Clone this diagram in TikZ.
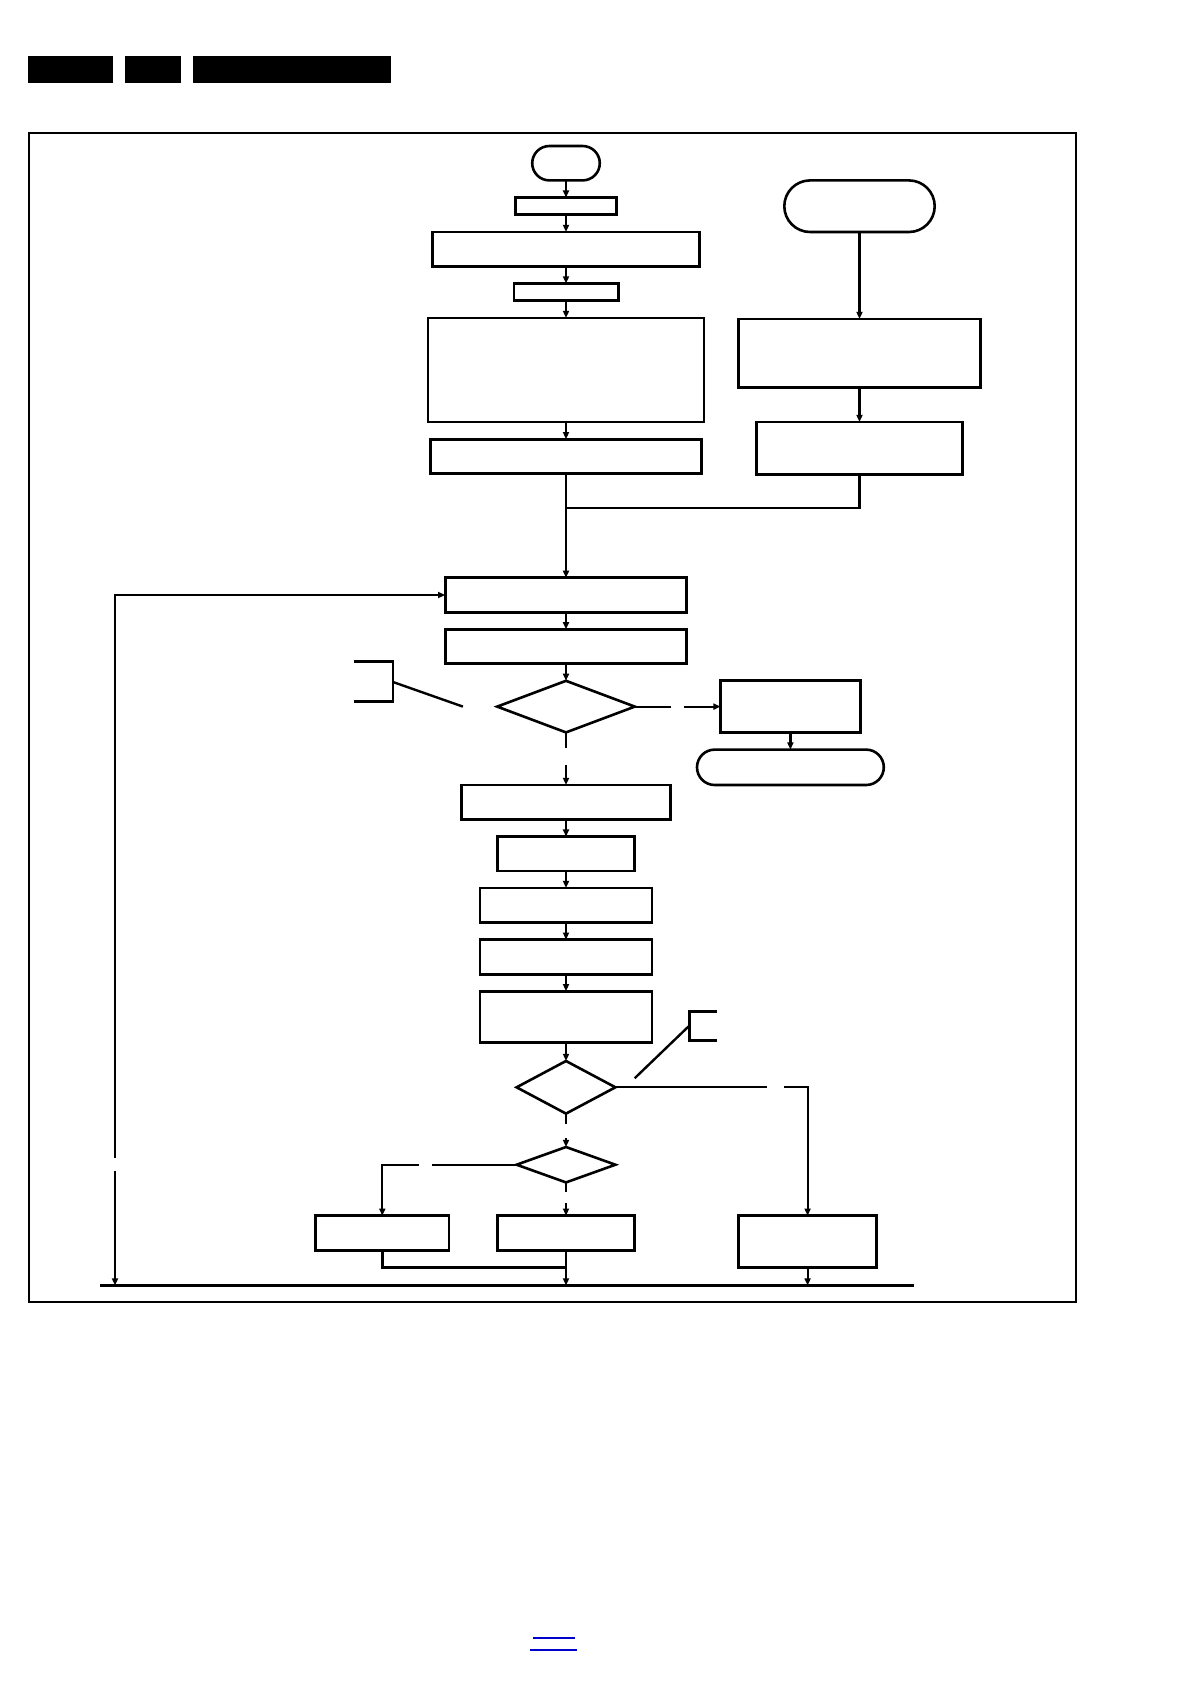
\documentclass[tikz,border=0pt]{standalone}
\usepackage{tikz}
\usetikzlibrary{arrows.meta, positioning, shapes.geometric, shapes.misc}

\begin{document}
\begin{tikzpicture}[x=0.5bp, y=-0.5bp,
  box/.style={rectangle, draw, line width=1.4pt, inner sep=0pt, outer sep=0pt},
  termbox/.style={rounded rectangle, draw, line width=1.3pt, inner sep=0pt, outer sep=0pt},
  decbox/.style={diamond, draw, line width=1.3pt, inner sep=0pt, outer sep=0pt},
  conn/.style={line width=1.1pt, -{Triangle[length=3.6pt, width=3pt]}},
  link/.style={line width=1.1pt},
  note/.style={line width=1.2pt}
]
  \useasboundingbox (0,0) rectangle (1191,1684);

  % header bars
  \fill (28,56) rectangle (113,83);
  \fill (125,56) rectangle (181,83);
  \fill (193,56) rectangle (391,83);

  % frame
  \draw[line width=1.1pt] (29,133) rectangle (1076,1302);

  % main column
  \node[termbox, minimum width=33.8bp, minimum height=17.2bp] (start) at (566,163.2) {};
  \node[box, minimum width=50.5bp,  minimum height=8.6bp]  (b1) at (566,206.2) {};
  \node[box, minimum width=133.7bp, minimum height=17.2bp] (b2) at (566,249.2) {};
  \node[box, minimum width=52.1bp,  minimum height=8.6bp]  (b3) at (566,292.1) {};
  \node[box, minimum width=138bp,   minimum height=52bp]   (b4) at (566,370) {};
  \node[box, minimum width=135.4bp, minimum height=17.2bp] (b5) at (566,456.4) {};

  % right column
  \node[termbox, minimum width=75.2bp, minimum height=25.8bp] (rt) at (859.5,206.2) {};
  \node[box, minimum width=120.9bp, minimum height=34.4bp] (ra) at (859.5,353.4) {};
  \node[box, minimum width=103.1bp, minimum height=26.4bp] (rb) at (859.5,448.4) {};
  \coordinate (jn) at (566,508);

  \node[box, minimum width=120.8bp, minimum height=17.2bp] (b6) at (566,595) {};
  \node[box, minimum width=120.8bp, minimum height=17.2bp] (b7) at (566,646.5) {};
  \node[decbox, minimum width=68.8bp, minimum height=25.8bp] (d1) at (566,706.6) {};
  \node[box, minimum width=69.8bp, minimum height=25.8bp] (c1) at (790.4,706.6) {};
  \node[termbox, minimum width=93.4bp, minimum height=17.7bp] (t2) at (790.4,767.3) {};

  \node[box, minimum width=104.2bp, minimum height=17.2bp] (b8)  at (566,802.2) {};
  \node[box, minimum width=68.8bp,  minimum height=17.2bp] (b9)  at (566,853.8) {};
  \node[box, minimum width=86bp,    minimum height=17.2bp] (b10) at (566,905.2) {};
  \node[box, minimum width=86bp,    minimum height=17.2bp] (b11) at (566,956.9) {};
  \node[box, minimum width=86bp,    minimum height=25.8bp] (b12) at (566,1017) {};
  \node[decbox, minimum width=49.4bp, minimum height=26.3bp] (d2) at (566,1087.3) {};
  \node[decbox, minimum width=49.4bp, minimum height=17.7bp] (d3) at (566,1164.7) {};

  \node[box, minimum width=66.6bp, minimum height=17.2bp] (bf) at (382.3,1232.9) {};
  \node[box, minimum width=68.8bp, minimum height=17.2bp] (bg) at (566,1232.9) {};
  \node[box, minimum width=68.8bp, minimum height=25.8bp] (be) at (807.6,1241.5) {};

  % straight arrows
  \foreach \from/\to in {start/b1, b1/b2, b2/b3, b3/b4, b4/b5, b5/b6, b6/b7, b7/d1,
                         b8/b9, b9/b10, b10/b11, b11/b12, b12/d2, c1/t2, rt/ra, ra/rb}{
    \draw[conn] (\from.south) -- (\to.north);
  }
  \draw[link] (rb.south) |- (jn);

  % broken connectors (label gaps)
  \coordinate (g1a) at (671,706.6);   \coordinate (g1b) at (684,706.6);
  \coordinate (g2a) at (566,747.5);   \coordinate (g2b) at (566,764.6);
  \coordinate (g3a) at (767,1087.3);  \coordinate (g3b) at (784,1087.3);
  \coordinate (g4a) at (566,1124.4);  \coordinate (g4b) at (566,1138.4);
  \coordinate (g5a) at (431.7,1164.7); \coordinate (g5b) at (418.8,1164.7);
  \coordinate (g6a) at (566,1192);    \coordinate (g6b) at (566,1203);
  \draw[link] (d1.east) -- (g1a);  \draw[conn] (g1b) -- (c1.west);
  \draw[link] (d1.south) -- (g2a); \draw[conn] (g2b) -- (b8.north);
  \draw[link] (d2.east) -- (g3a);  \draw[conn] (g3b) -| (be.north);
  \draw[link] (d2.south) -- (g4a); \draw[conn] (g4b) -- (d3.north);
  \draw[link] (d3.west) -- (g5a);  \draw[conn] (g5b) -| (bf.north);
  \draw[link] (d3.south) -- (g6a); \draw[conn] (g6b) -- (bg.north);

  % return bus
  \coordinate (botL) at (100,1285.5);
  \coordinate (botR) at (914,1285.5);
  \coordinate (mrg) at (566,1267.2);
  \draw[line width=1.1pt] (botL) -- (botR);
  \draw[link, line width=1.4pt] (bf.south) |- (mrg);
  \draw[conn] (bg.south) -- (bg.south |- botL);
  \draw[conn] (be.south) -- (be.south |- botL);

  % loop back
  \coordinate (lpA) at (115,1157.6);
  \coordinate (lpB) at (115,1170.6);
  \draw[conn] (lpA) |- (b6.west);
  \draw[conn] (lpB) -- (lpB |- botL);

  % callouts
  \draw[note] (354.4,661.5) -- (393,661.5) -- (393,701.3) -- (354.4,701.3);
  \draw[note] (393,682) -- (462.9,706.6);
  \draw[note] (717.4,1011.6) -- (689.4,1011.6) -- (689.4,1040.6) -- (717.4,1040.6);
  \draw[note] (689.4,1025.6) -- (634.7,1078.2);

  % page link
  \draw[blue!80!black, line width=0.6pt] (533,1638) -- (575,1638);
  \draw[blue!80!black, line width=0.6pt] (530,1650) -- (577,1650);
\end{tikzpicture}
\end{document}
